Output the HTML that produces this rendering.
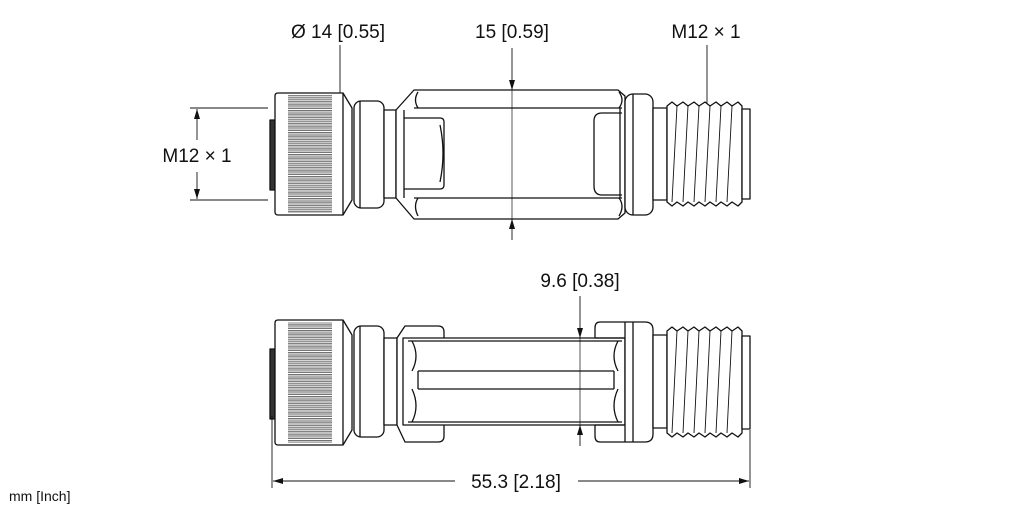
<!DOCTYPE html>
<html><head><style>
html,body{margin:0;padding:0;background:#fff;width:1022px;height:511px;overflow:hidden}
svg{display:block}
text{font-family:"Liberation Sans",sans-serif;fill:#111}
</style></head><body>
<svg width="1022" height="511" viewBox="0 0 1022 511" xmlns="http://www.w3.org/2000/svg">
<defs>
<pattern id="kn" x="0" y="0" width="10" height="4.4" patternUnits="userSpaceOnUse">
<rect width="10" height="4.4" fill="#fff"/>
<rect y="0.6" width="10" height="2.2" fill="#c8c8c8"/>
<line x1="0" y1="0.3" x2="10" y2="0.3" stroke="#333" stroke-width="0.6"/>
<line x1="0" y1="3.1" x2="10" y2="3.1" stroke="#333" stroke-width="0.6"/>
</pattern>
<marker id="ar" viewBox="0 0 10 6" refX="10" refY="3" markerWidth="10" markerHeight="6" orient="auto-start-reverse" markerUnits="userSpaceOnUse"><path d="M0,0 L10,3 L0,6z" fill="#111"/></marker>
</defs>
<g fill="none" stroke="#111" stroke-width="1.3" stroke-linejoin="round">
<!-- TOP VIEW -->
<rect x="270" y="120" width="5" height="70" fill="#333"/>
<path d="M275,96 Q275,93 278,93 L343,93 L352,108 L352,200 L343,215 L278,215 Q275,215 275,212Z" fill="#fff"/>
<rect x="288" y="95" width="44" height="118" fill="url(#kn)" stroke="none"/>
<line x1="343" y1="93" x2="343" y2="215"/>
<rect x="354" y="101" width="30" height="107" rx="7" fill="#fff"/>
<line x1="360" y1="101" x2="360" y2="208"/>
<rect x="384" y="110" width="12" height="88" fill="#fff"/>
<path d="M396,110 L414,90 L618,90 L625,96 L625,213 L618,219 L414,219 L396,198Z" fill="#fff"/>
<line x1="404" y1="110" x2="404" y2="198"/>
<path d="M414,108 L622,108 M414,198 L622,198"/>
<path d="M418,92 Q413,100 418,108 M418,198 Q413,206 418,216 M619,92 Q625,100 619,108 M619,198 Q625,206 619,216"/>
<path d="M404,118 L440,118 Q444,118 444,122 L444,185 Q444,189 440,189 L404,189"/>
<path d="M440,125 Q446,153 440,182"/>
<path d="M622,113 L602,113 Q594,113 594,121 L594,186 Q594,195 602,195 L622,195"/>
<line x1="620" y1="108" x2="620" y2="198"/>
<rect x="625" y="94" width="28" height="121" rx="8" fill="#fff"/>
<line x1="633" y1="94" x2="633" y2="215"/>
<rect x="653" y="108" width="14" height="92" fill="#fff"/>
<path d="M667,106 L672,102 L677,106 L683,102 L688,106 L694,102 L699,106 L705,102 L710,106 L716,102 L721,106 L727,102 L732,106 L738,102 L742,106 L742,202 L738,206 L732,202 L727,206 L721,202 L716,206 L710,202 L705,206 L699,202 L694,206 L688,202 L683,206 L677,202 L672,206 L667,202Z" fill="#fff"/>
<path d="M677,106 L672,202 M688,106 L683,202 M699,106 L694,202 M710,106 L705,202 M721,106 L716,202 M732,106 L727,202" stroke-width="0.9"/>
<rect x="742" y="109" width="8" height="90" fill="#fff"/>

<!-- BOTTOM VIEW -->
<rect x="270" y="349" width="5" height="70" fill="#333"/>
<path d="M275,323 Q275,320 278,320 L343,320 L352,335 L352,430 L343,445 L278,445 Q275,445 275,442Z" fill="#fff"/>
<rect x="288" y="322" width="44" height="121" fill="url(#kn)" stroke="none"/>
<line x1="343" y1="320" x2="343" y2="445"/>
<rect x="354" y="326" width="30" height="111" rx="7" fill="#fff"/>
<line x1="360" y1="326" x2="360" y2="437"/>
<rect x="384" y="338" width="13" height="87" fill="#fff"/>
<path d="M397,338 L405,326 L438,326 Q444,326 444,332 L444,436 Q444,442 438,442 L405,442 L397,425Z" fill="#fff"/>
<rect x="403" y="338" width="222" height="87" fill="#fff"/>
<path d="M408,341 L622,341 M408,422 L622,422 M418,371 L614,371 M418,389 L614,389"/>
<path d="M412,341 Q420,356 412,371 M412,389 Q420,406 412,422 M618,341 Q610,356 618,371 M618,389 Q610,406 618,422"/>
<path d="M418,371 L418,389 M614,371 L614,389"/>
<path d="M625,322 L600,322 Q595,322 595,328 L595,338 M595,425 L595,436 Q595,442 600,442 L625,442"/>
<line x1="595" y1="338" x2="625" y2="338"/>
<line x1="595" y1="425" x2="625" y2="425"/>
<rect x="625" y="322" width="28" height="120" rx="8" fill="#fff" stroke="none"/>
<path d="M625,322 L645,322 Q653,322 653,330 L653,434 Q653,442 645,442 L625,442 L625,322"/>
<line x1="633" y1="322" x2="633" y2="442"/>
<rect x="653" y="335" width="14" height="93" fill="#fff"/>
<path d="M667,331 L672,327 L677,331 L683,327 L688,331 L694,327 L699,331 L705,327 L710,331 L716,327 L721,331 L727,327 L732,331 L738,327 L742,331 L742,433 L738,437 L732,433 L727,437 L721,433 L716,437 L710,433 L705,437 L699,433 L694,437 L688,433 L683,437 L677,433 L672,437 L667,433Z" fill="#fff"/>
<path d="M677,331 L672,433 M688,331 L683,433 M699,331 L694,433 M710,331 L705,433 M721,331 L716,433 M732,331 L727,433" stroke-width="0.9"/>
<rect x="742" y="336" width="8" height="93" fill="#fff"/>
</g>

<!-- DIMENSIONS -->
<g stroke="#111" stroke-width="0.9" fill="none">
<line x1="340" y1="45" x2="340" y2="93"/>
<line x1="707" y1="45" x2="707" y2="103"/>
<line x1="512" y1="48" x2="512" y2="90" marker-end="url(#ar)"/>
<line x1="512" y1="240" x2="512" y2="219" marker-end="url(#ar)"/>
<line x1="512" y1="90" x2="512" y2="219" stroke-width="0.7"/>
<line x1="190" y1="108" x2="268" y2="108"/>
<line x1="190" y1="200" x2="268" y2="200"/>
<line x1="197" y1="140" x2="197" y2="109" marker-end="url(#ar)"/>
<line x1="197" y1="172" x2="197" y2="199" marker-end="url(#ar)"/>
<line x1="580" y1="296" x2="580" y2="338" marker-end="url(#ar)"/>
<line x1="580" y1="446" x2="580" y2="425" marker-end="url(#ar)"/>
<line x1="580" y1="338" x2="580" y2="425" stroke-width="0.7"/>
<line x1="272" y1="416" x2="272" y2="488"/>
<line x1="750" y1="430" x2="750" y2="488"/>
<line x1="455" y1="481" x2="273" y2="481" marker-end="url(#ar)"/>
<line x1="578" y1="481" x2="749" y2="481" marker-end="url(#ar)"/>
</g>
<g font-size="19">
<text x="338" y="38" text-anchor="middle">Ø 14 [0.55]</text>
<text x="512" y="38" text-anchor="middle">15 [0.59]</text>
<text x="706" y="38" text-anchor="middle">M12 × 1</text>
<text x="197" y="162" text-anchor="middle">M12 × 1</text>
<text x="580" y="287" text-anchor="middle">9.6 [0.38]</text>
<text x="516" y="488" text-anchor="middle">55.3 [2.18]</text>
</g>
<text x="9" y="501" font-size="14">mm [Inch]</text>
</svg>
</body></html>
